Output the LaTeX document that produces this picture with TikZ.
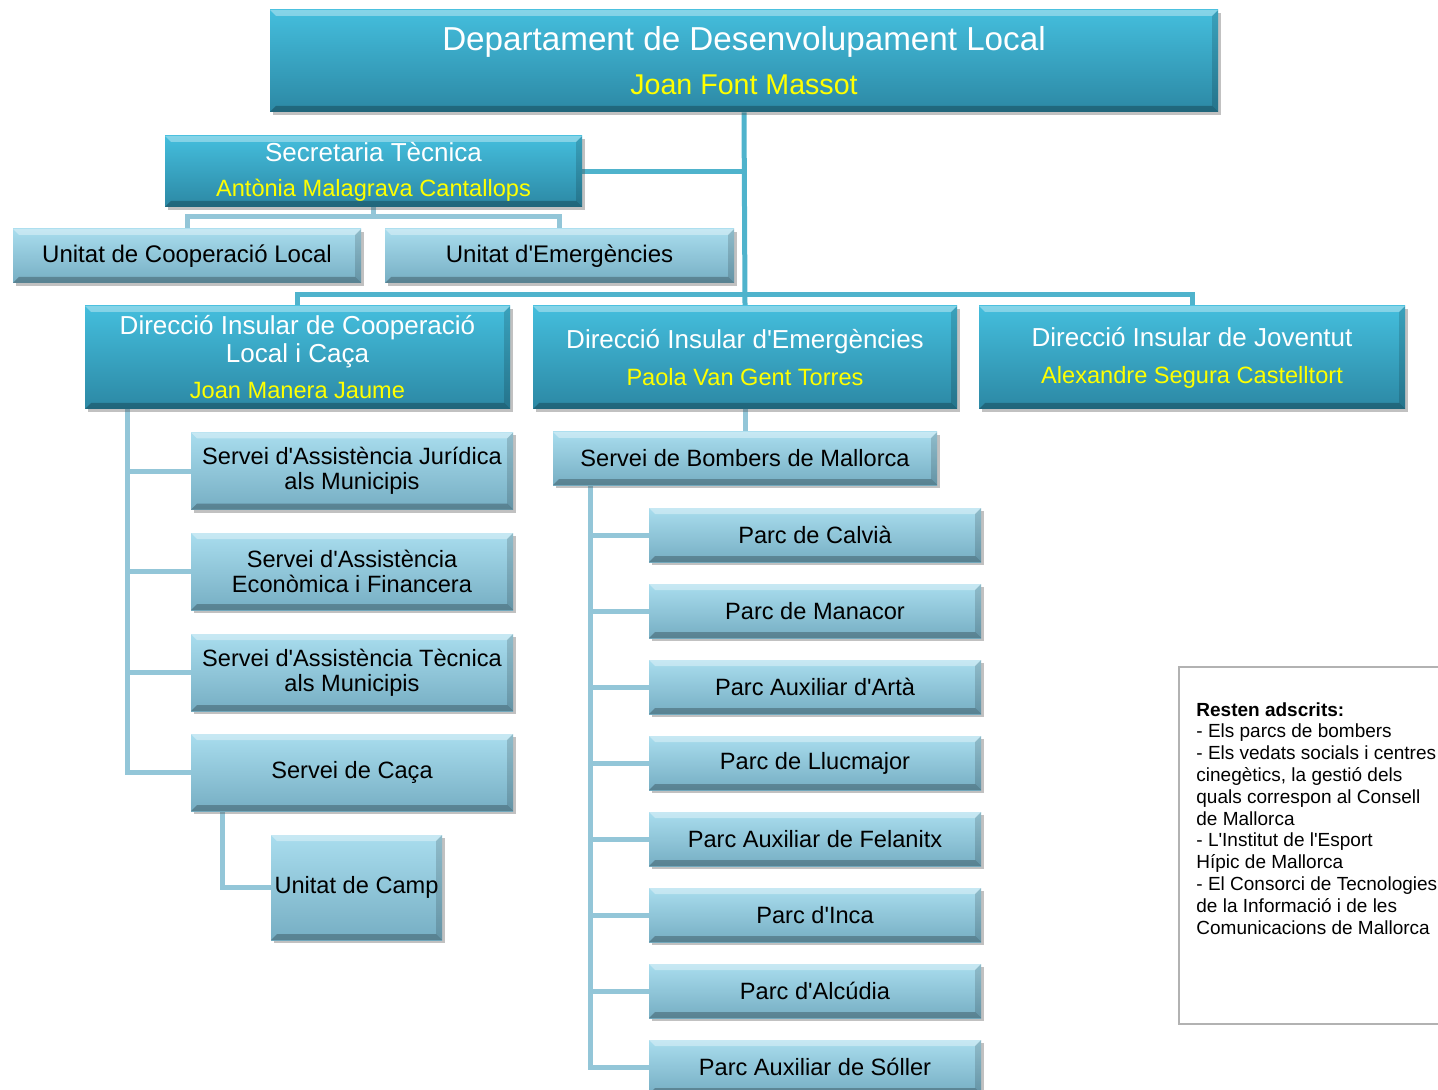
\documentclass[tikz,border=0pt]{standalone}
\usepackage{fontspec}
\setmainfont{Liberation Sans}[Ligatures=TeXOff]
\usetikzlibrary{shadows,backgrounds}
\definecolor{tealtop}{HTML}{44BEDD}
\definecolor{tealbot}{HTML}{2C88A4}
\definecolor{skytop}{HTML}{A9DDEE}
\definecolor{skybot}{HTML}{76AEC3}
\definecolor{linkdark}{HTML}{4FB3CC}
\definecolor{linklight}{HTML}{93C6D8}
\definecolor{namecol}{HTML}{FFFF00}
\begin{document}
\begin{tikzpicture}[x=0.5pt,y=-0.5pt,
	box/.style={rectangle,inner sep=0pt,align=center,
		drop shadow={shadow xshift=1.5pt,shadow yshift=-1.5pt,opacity=0.35,fill=black!70},
		path picture={
			\fill[white,opacity=0.35] (path picture bounding box.north west) -- (path picture bounding box.north east)
				-- ([xshift=-3pt,yshift=-3pt]path picture bounding box.north east) -- ([xshift=3pt,yshift=-3pt]path picture bounding box.north west) -- cycle;
			\fill[black,opacity=0.25] (path picture bounding box.south west) -- (path picture bounding box.south east)
				-- ([xshift=-3pt,yshift=3pt]path picture bounding box.south east) -- ([xshift=3pt,yshift=3pt]path picture bounding box.south west) -- cycle;
			\fill[black,opacity=0.15] (path picture bounding box.north east) -- (path picture bounding box.south east)
				-- ([xshift=-3pt,yshift=3pt]path picture bounding box.south east) -- ([xshift=-3pt,yshift=-3pt]path picture bounding box.north east) -- cycle;
		}},
	headbox/.style={box,top color=tealtop,bottom color=tealbot,text=white},
	unitbox/.style={box,top color=skytop,bottom color=skybot,text=black,font=\fontsize{11.8}{12.5}\selectfont},
	parcbox/.style={unitbox,minimum width=166pt,minimum height=27pt},
	trunk/.style={linkdark,line width=2.5pt},
	link/.style={linklight,line width=2.5pt}]
	\useasboundingbox (0,0) rectangle (1438,1090);
	% --- boxes
	\node[headbox,minimum width=474pt,minimum height=51pt,font=\fontsize{16.6}{22}\selectfont] (dept) at (744,61)
		{Departament de Desenvolupament Local\\{\color{namecol}\fontsize{14.3}{15}\selectfont Joan Font Massot}};
	\node[headbox,minimum width=208.5pt,minimum height=35.5pt,font=\fontsize{13}{17.5}\selectfont] (secr) at (373.5,171.5)
		{Secretaria Tècnica\\{\color{namecol}\fontsize{11.8}{12}\selectfont Antònia Malagrava Cantallops}};
	\node[unitbox,minimum width=174pt,minimum height=27pt,font=\fontsize{12}{13}\selectfont] (uCoop) at (187,256) {Unitat de Cooperació Local};
	\node[unitbox,minimum width=174.5pt,minimum height=27pt,font=\fontsize{12}{13}\selectfont] (uEmg) at (559.5,256) {Unitat d'Emergències};
	\node[headbox,minimum width=212.5pt,minimum height=51.5pt,font=\fontsize{13}{14}\selectfont] (dCoop) at (297.5,357.5)
		{Direcció Insular de Cooperació\\Local i Caça\\[4pt]{\color{namecol}\fontsize{11.8}{13}\selectfont Joan Manera Jaume}};
	\node[headbox,minimum width=212pt,minimum height=51.5pt,font=\fontsize{13}{18.5}\selectfont] (dEmg) at (745,357.5)
		{Direcció Insular d'Emergències\\{\color{namecol}\fontsize{11.8}{13}\selectfont Paola Van Gent Torres}};
	\node[headbox,minimum width=213pt,minimum height=51.5pt,font=\fontsize{13}{18.5}\selectfont] (dJov) at (1192,357.5)
		{Direcció Insular de Joventut\\{\color{namecol}\fontsize{11.8}{13}\selectfont Alexandre Segura Castelltort}};
	% serveis de cooperacio
	\node[unitbox,minimum width=161pt,minimum height=38.5pt] (sJur) at (352,471) {Servei d'Assistència Jurídica\\als Municipis};
	\node[unitbox,minimum width=161pt,minimum height=38.5pt] (sEco) at (352,571.5) {Servei d'Assistència\\Econòmica i Financera};
	\node[unitbox,minimum width=161pt,minimum height=38.5pt] (sTec) at (352,672.5) {Servei d'Assistència Tècnica\\als Municipis};
	\node[unitbox,minimum width=161pt,minimum height=38.5pt] (sCaca) at (352,772.5) {Servei de Caça};
	\node[unitbox,minimum width=85.5pt,minimum height=52.5pt] (uCamp) at (356.5,887.5) {Unitat de Camp};
	% bombers
	\node[unitbox,minimum width=192pt,minimum height=26.5pt] (bomb) at (745,458.5) {Servei de Bombers de Mallorca};
	\node[parcbox] (pCalvia) at (815,535) {Parc de Calvià};
	\node[parcbox] (pManacor) at (815,611) {Parc de Manacor};
	\node[parcbox] (pArta) at (815,687) {Parc Auxiliar d'Artà};
	\node[parcbox] (pLlucmajor) at (815,763) {Parc de Llucmajor};
	\node[parcbox] (pFelanitx) at (815,839) {Parc Auxiliar de Felanitx};
	\node[parcbox] (pInca) at (815,915) {Parc d'Inca};
	\node[parcbox] (pAlcudia) at (815,991) {Parc d'Alcúdia};
	\node[parcbox] (pSoller) at (815,1067) {Parc Auxiliar de Sóller};
	% --- connectors, behind the boxes
	\begin{scope}[on background layer]
		\draw[trunk] (dept.south) -- (dEmg.north);
		\draw[trunk] (secr.east) -- (secr.east -| dept.south);
		\draw[trunk] (dCoop.north) -- ++(0,-11) -| (dJov.north);
		\draw[link] (secr.south) -- ++(0,10);
		\draw[link] (uCoop.north) -- ++(0,-12) -| (uEmg.north);
		\foreach \n in {sJur,sEco,sTec,sCaca}
			\draw[link] (\n.west) -| ([xshift=21.5pt]dCoop.south west);
		\draw[link] (uCamp.west) -| ([xshift=16pt]sCaca.south west);
		\draw[link] (dEmg.south) -- (bomb.north);
		\foreach \n in {pCalvia,pManacor,pArta,pLlucmajor,pFelanitx,pInca,pAlcudia,pSoller}
			\draw[link] (\n.west) -| ([xshift=19pt]bomb.south west);
	\end{scope}
	% note
	\draw[black!30,line width=1pt] (1179,667) rectangle (1450,1024);
	\node[anchor=north west,inner sep=0pt,align=left,font=\fontsize{9.5}{10.9}\selectfont] (nota) at (1196,702)
		{\textbf{Resten adscrits:}\\- Els parcs de bombers\\- Els vedats socials i centres\\cinegètics, la gestió dels\\quals correspon al Consell\\de Mallorca\\- L'Institut de l'Esport\\Hípic de Mallorca\\- El Consorci de Tecnologies\\de la Informació i de les\\Comunicacions de Mallorca};
\end{tikzpicture}
\end{document}
